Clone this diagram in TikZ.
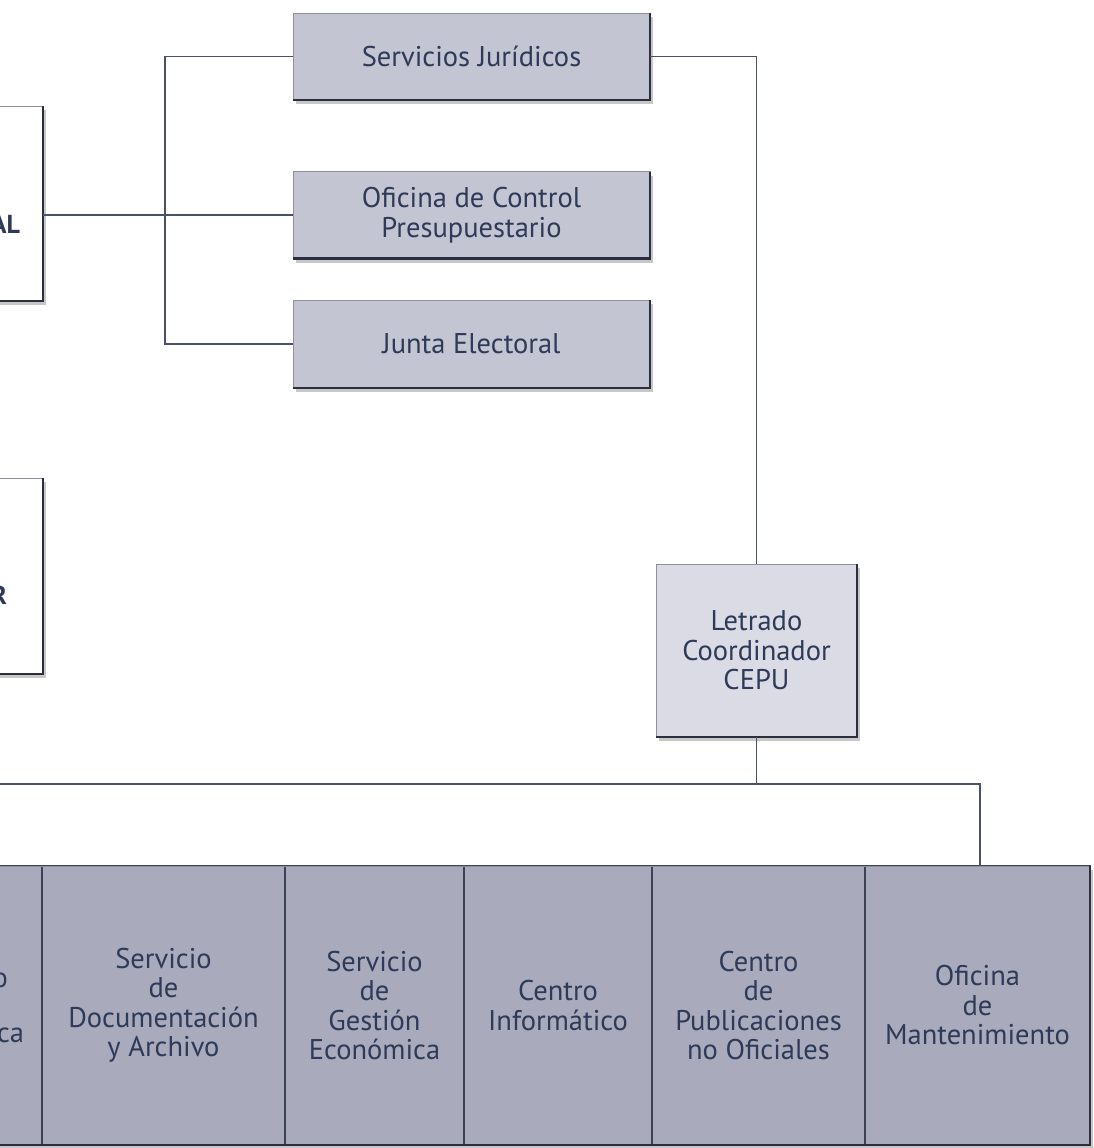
\documentclass[tikz,border=0pt]{standalone}
\usepackage{fontspec}
\setmainfont{PT Sans}
\usetikzlibrary{shadows}
\definecolor{ink}{HTML}{2E3A58}
\definecolor{wirec}{HTML}{4A5068}
\definecolor{boxA}{HTML}{C4C5D3}
\definecolor{boxL}{HTML}{DADBE5}
\definecolor{boxB}{HTML}{A9ABBD}
\definecolor{edgeD}{HTML}{2A2E3D}
\definecolor{edgeL}{HTML}{8E90A0}
\definecolor{divc}{HTML}{3C4256}
\begin{document}
\begin{tikzpicture}[x=1pt,y=-1pt,
  every node/.style={inner sep=0pt, outer sep=0pt, text=ink, align=center, font=\fontsize{28.5}{29.5}\selectfont},
  shad/.style={drop shadow={shadow xshift=3pt, shadow yshift=-4pt, opacity=0.22, fill=black}},
  unitbox/.style={rectangle, draw=edgeL, line width=0.8pt, fill=boxA, shad},
  whitebox/.style={rectangle, draw=edgeL, line width=0.8pt, fill=white, shad},
  cellbox/.style={rectangle, draw=divc, line width=1.4pt, fill=boxB},
  wire/.style={draw=wirec, line width=1.5pt},
  darkedge/.style={draw=edgeD, line width=2.4pt},
  frag/.style={anchor=base east, font=\fontsize{26}{28}\selectfont\bfseries}
]
\path[use as bounding box, clip] (0,0) rectangle (1093,1148);
\fill[white] (0,0) rectangle (1093,1148);

% left (cut) boxes
\node[whitebox, minimum width=243pt, minimum height=195pt] (wb1) at (-78.5,203.5) {};
\node[whitebox, minimum width=243pt, minimum height=196pt] (wb2) at (-78.5,576) {};
\node[frag] (f1) at (20,233) {AL};
\node[frag] (f2) at (7,604) {R};

% upper right units
\node[unitbox, minimum width=357pt, minimum height=87pt] (srv) at (471.5,56.5) {Servicios Jurídicos};
\node[unitbox, minimum width=357pt, minimum height=87pt] (ofc) at (471.5,215) {Oficina de Control\\Presupuestario};
\node[unitbox, minimum width=357pt, minimum height=88pt] (jun) at (471.5,344) {Junta Electoral};
\node[unitbox, fill=boxL, minimum width=201pt, minimum height=173pt] (let) at (756.5,650.5) {Letrado\\Coordinador\\CEPU};

% bottom row
\node[rectangle, fill=boxB, shad, minimum width=1290pt, minimum height=279pt] (row) at (445,1005.5) {};
\node[cellbox, minimum width=242pt, minimum height=279pt] (c0) at (-79,1005.5) {};
\node[cellbox, minimum width=243pt, minimum height=279pt] (c1) at (163.5,1005.5) {Servicio\\de\\Documentación\\y Archivo};
\node[cellbox, minimum width=179pt, minimum height=279pt] (c2) at (374.5,1005.5) {Servicio\\de\\Gestión\\Económica};
\node[cellbox, minimum width=188pt, minimum height=279pt] (c3) at (558,1005.5) {Centro\\Informático};
\node[cellbox, minimum width=213pt, minimum height=279pt] (c4) at (758.5,1005.5) {Centro\\de\\Publicaciones\\no Oficiales};
\node[cellbox, minimum width=225pt, minimum height=279pt] (c5) at (977.5,1005.5) {Oficina\\de\\Mantenimiento};
\node[anchor=base east] (f3) at (8,987) {o};
\node[anchor=base east] (f4) at (24,1042) {ca};
\draw[draw=edgeL, line width=1pt] (c0.north west) -- (c5.north east);

% dark shaded edges
\foreach \n in {wb1,wb2,srv,ofc,jun,let}
  \draw[darkedge] (\n.north east) -- (\n.south east) -- (\n.south west);
\draw[darkedge] (c5.north east) -- (c5.south east) -- (c0.south west);

% connectors
\coordinate (jb) at (165,344);
\draw[wire] (srv.west) -| (jb) -- (jun.west);
\draw[wire] (wb1.east |- ofc.west) -- (ofc.west);
\draw[wire] (srv.east) -| (let.north);
\coordinate (hb) at (756.5,784);
\coordinate (barL) at (-10,784);
\coordinate (barR) at (980,784);
\draw[wire] (let.south) -- (hb);
\draw[wire] (barL) -- (barR) -- (barR |- c5.north);
\end{tikzpicture}
\end{document}
